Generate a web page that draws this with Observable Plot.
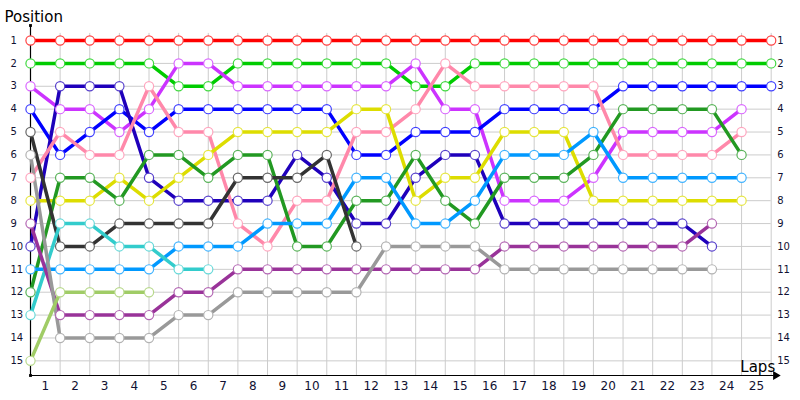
<!DOCTYPE html>
<html>
<head>
<meta charset="utf-8">
<script src="https://cdn.jsdelivr.net/npm/d3@7"></script>
<script src="https://cdn.jsdelivr.net/npm/@observablehq/plot@0.6"></script>
<style>
  html, body { margin: 0; padding: 0; background: #fff; }
  #chart svg { display: block; font-family: "DejaVu Sans", sans-serif; }
</style>
</head>
<body>
<div id="chart"></div>
<script>
// ---- data ----
const laps = [0,1,2,3,4,5,6,7,8,9,10,11,12,13,14,15,16,17,18,19,20,21,22,23,24,25];
const lapLabels = [1,2,3,4,5,6,7,8,9,10,11,12,13,14,15,16,17,18,19,20,21,22,23,24,25];
const positions = [1,2,3,4,5,6,7,8,9,10,11,12,13,14,15];

const driverNames = ["red","green","violet","blue","navy","pink","yellow","darkgreen","lightblue","darkgray","cyan","purple","gray","olive"];
const driverColors = ["#ff0000","#00cc00","#cc33ff","#0000ff","#1f00bb","#ff88aa","#dddd00","#229922","#0099ff","#333333","#33cccc","#993399","#999999","#a0cc66"];

const posRed       = [1,1,1,1,1,1,1,1,1,1,1,1,1,1,1,1,1,1,1,1,1,1,1,1,1,1];
const posGreen     = [2,2,2,2,2,3,3,2,2,2,2,2,2,3,3,2,2,2,2,2,2,2,2,2,2,2];
const posViolet    = [3,4,4,5,4,2,2,3,3,3,3,3,3,2,4,4,8,8,8,7,5,5,5,5,4];
const posBlue      = [4,6,5,4,5,4,4,4,4,4,4,6,6,5,5,5,4,4,4,4,3,3,3,3,3,3];
const posNavy      = [10,3,3,3,7,8,8,8,8,6,7,9,9,7,6,6,9,9,9,9,9,9,9,10];
const posPink      = [7,5,6,6,3,5,5,9,10,8,8,5,5,4,2,3,3,3,3,3,6,6,6,6,5];
const posYellow    = [8,8,8,7,8,7,6,5,5,5,5,4,4,8,7,7,5,5,5,8,8,8,8,8,8];
const posDarkGreen = [12,7,7,8,6,6,7,6,6,10,10,8,8,6,8,9,7,7,7,6,4,4,4,4,6];
const posLightBlue = [11,11,11,11,11,10,10,10,9,9,9,7,7,9,9,8,6,6,6,5,7,7,7,7,7];
const posDarkGray  = [5,10,10,9,9,9,9,7,7,7,6,10];
const posCyan      = [13,9,9,10,10,11,11];
const posPurple    = [9,13,13,13,13,12,12,11,11,11,11,11,11,11,11,11,10,10,10,10,10,10,10,9];
const posGray      = [6,14,14,14,14,13,13,12,12,12,12,12,10,10,10,10,11,11,11,11,11,11,11,11];
const posOlive     = [15,12,12,12,12];

const series = [posRed,posGreen,posViolet,posBlue,posNavy,posPink,posYellow,posDarkGreen,posLightBlue,posDarkGray,posCyan,posPurple,posGray,posOlive];

// ---- table built from the arrays ----
const rows = [];
series.forEach((arr, i) => {
  arr.forEach((p, j) => rows.push({driver: driverNames[i], color: driverColors[i], lap: laps[j], pos: p}));
});
const lighter = c => d3.interpolateRgb(c, "#ffffff")(0.25);

// layout helpers (scale domain extents)
const yTop = 0.344, yBottom = 15.64, yGridTop = 0.69;

const chart = Plot.plot({
  width: 800,
  height: 400,
  marginLeft: 30,
  marginRight: 29.3,
  marginTop: 25,
  marginBottom: 25,
  x: {domain: [0, 25], axis: null},
  y: {domain: [yTop, yBottom], reverse: true, axis: null},
  color: {type: "identity"},
  marks: [
    // grid
    Plot.ruleX(laps, {x: d => d, y1: yGridTop, y2: yBottom, stroke: "#cccccc", strokeWidth: 1}),
    Plot.ruleY(positions, {y: d => d, x1: 0, x2: 25, stroke: "#cccccc", strokeWidth: 1}),
    // axes
    Plot.ruleX([0], {y1: yTop, y2: yBottom, stroke: "#000", strokeWidth: 1.2}),
    Plot.ruleY([yBottom], {x1: 0, x2: 25.1, stroke: "#000", strokeWidth: 1.2}),
    Plot.dot([25.15], {x: d => d, y: yBottom, symbol: "triangle2", rotate: 90, r: 4.2, fill: "#000", stroke: "none"}),
    Plot.dot([0], {x: d => d, y: yTop, symbol: "square", r: 1.6, fill: "#000"}),
    Plot.dot([0], {x: d => d, y: yBottom, symbol: "square", r: 1.6, fill: "#000"}),
    // lines and markers
    Plot.line(rows, {x: "lap", y: "pos", z: "driver", stroke: "color", strokeWidth: 3.5, strokeLinejoin: "round", curve: "linear"}),
    Plot.dot(rows, {x: "lap", y: "pos", r: 4.6, fill: "#ffffff", stroke: d => lighter(d.color), strokeWidth: 1.2}),
    // tick labels
    Plot.text(positions, {x: 0, y: d => d, dx: -20, text: d => String(d), textAnchor: "start", fontSize: 10, fill: "#111133"}),
    Plot.text(positions, {x: 25, y: d => d, dx: 6, text: d => String(d), textAnchor: "start", fontSize: 10, fill: "#111133"}),
    Plot.text(lapLabels, {x: d => d - 0.5, y: yBottom, dy: 11, text: d => String(d), fontSize: 12, fill: "#111133"}),
    // titles
    Plot.text(["Position"], {frameAnchor: "top-left", dx: -26, dy: -4, text: d => d, textAnchor: "start", lineAnchor: "bottom", fontSize: 15, fill: "#000"}),
    Plot.text(["Laps"], {frameAnchor: "bottom-right", dx: 4, dy: -4, text: d => d, textAnchor: "end", lineAnchor: "bottom", fontSize: 15, fill: "#000"})
  ]
});
document.getElementById("chart").appendChild(chart);
</script>
</body>
</html>
